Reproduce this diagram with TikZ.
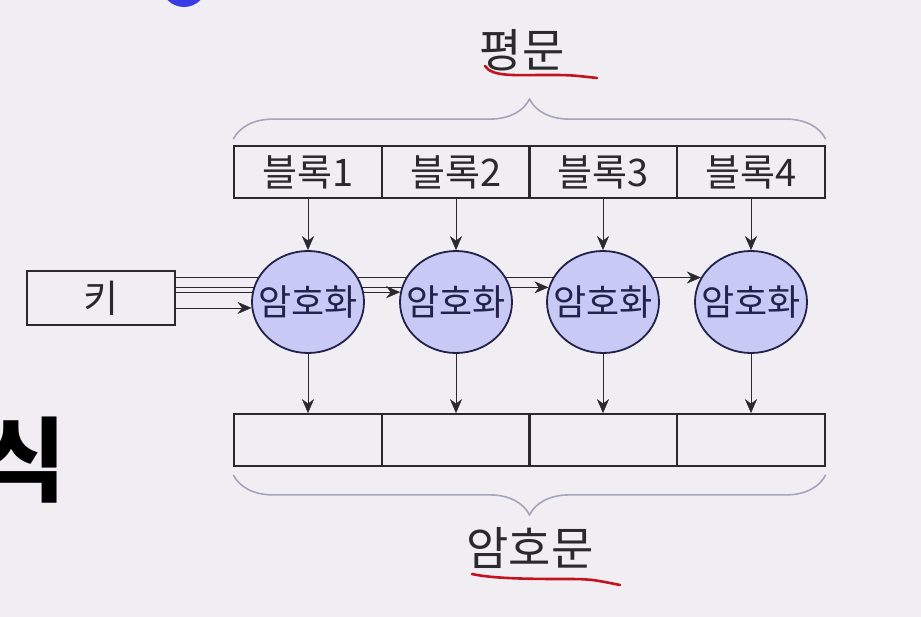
\documentclass[tikz,border=0pt]{standalone}
\usepackage{fontspec}
\setmainfont{Noto Sans CJK KR}
\usetikzlibrary{shapes.geometric,decorations.pathreplacing,arrows.meta,calc}
\pgfdeclarelayer{bg}
\pgfdeclarelayer{back}
\pgfsetlayers{bg,back,main}
\definecolor{bgcol}{HTML}{F1EEF3}
\definecolor{lncol}{HTML}{2A2A2E}
\definecolor{encfill}{HTML}{C9C9F6}
\definecolor{encline}{HTML}{22224A}
\definecolor{bracecol}{HTML}{A3A5BA}
\definecolor{penred}{HTML}{C0141E}
\definecolor{dotblue}{HTML}{3B3BE6}
\tikzset{
  cell/.style={draw=lncol,line width=1.8pt,minimum width=147.5pt,minimum height=52pt,inner sep=0pt,
    text=lncol,font=\fontsize{38}{38}\selectfont},
  encnode/.style={ellipse,draw=encline,fill=encfill,line width=1.8pt,minimum width=112pt,minimum height=102pt,
    inner sep=0pt,text=encline,font=\fontsize{36}{36}\selectfont},
  keybox/.style={draw=lncol,line width=1.8pt,minimum width=148pt,minimum height=54pt,inner sep=0pt,
    text=lncol,font=\fontsize{38}{38}\selectfont},
  bracket/.style={draw=bracecol,line width=1.6pt,decorate,decoration={brace,amplitude=40pt}},
  label/.style={text=lncol,font=\fontsize{46}{46}\selectfont},
  scribble/.style={draw=penred,line width=2.6pt,line cap=round}
}
\begin{document}
\begin{tikzpicture}[>={Stealth[length=14pt,width=12pt]},x=1pt,y=-1pt,line width=1.8pt]
  \begin{pgfonlayer}{bg}
    \fill[bgcol] (0,0) rectangle (921,617);
  \end{pgfonlayer}
  \useasboundingbox (0,0) rectangle (921,617);
  % slide leftovers
  \begin{scope}
    \clip (0,0) rectangle (921,617);
    \fill[dotblue] (184,-16) circle (23);
    \node[anchor=east,font=\fontsize{92}{92}\selectfont\bfseries,text=black] (side) at (70,460) {식};
  \end{scope}
  % plaintext, rounds, ciphertext
  \foreach \i/\x in {1/308,2/456,3/603,4/751}{
    \node[cell] (blk\i) at (\x,172) {블록\i};
    \node[encnode] (enc\i) at (\x,302) {\makebox[0pt]{암호화}};
    \node[cell] (out\i) at (\x,440) {};
    \draw[->,lncol] (blk\i) -- (enc\i);
    \draw[->,lncol] (enc\i) -- (out\i);
  }
  \node[keybox] (key) at (101,298) {키};
  % key lines (behind the circles)
  \begin{pgfonlayer}{back}
    \draw[->,lncol] (key.east |- enc1.186) -- (enc1.186);
    \draw[->,lncol] (key.east |- enc2.170) -- (enc2.170);
    \draw[->,lncol] (key.east |- enc3.165) -- (enc3.165);
    \draw[->,lncol] (key.east |- enc4.154) -- (enc4.154);
  \end{pgfonlayer}
  % braces
  \draw[bracket] ($(blk1.north west)+(0,-6)$) -- ($(blk4.north east)+(0,-6)$);
  \node[label] (plain) at (522,50) {평문};
  \draw[bracket] ($(out4.south east)+(0,8)$) -- ($(out1.south west)+(0,8)$);
  \node[label] (cipher) at (530,548) {암호문};
  % red pen marks
  \draw[scribble] (485,66) .. controls (492,77) and (515,75) .. (545,75) .. controls (570,75) .. (597,78);
  \draw[scribble] (472,574) .. controls (490,578) and (520,579) .. (560,579) .. controls (590,579) .. (620,585);
\end{tikzpicture}
\end{document}
